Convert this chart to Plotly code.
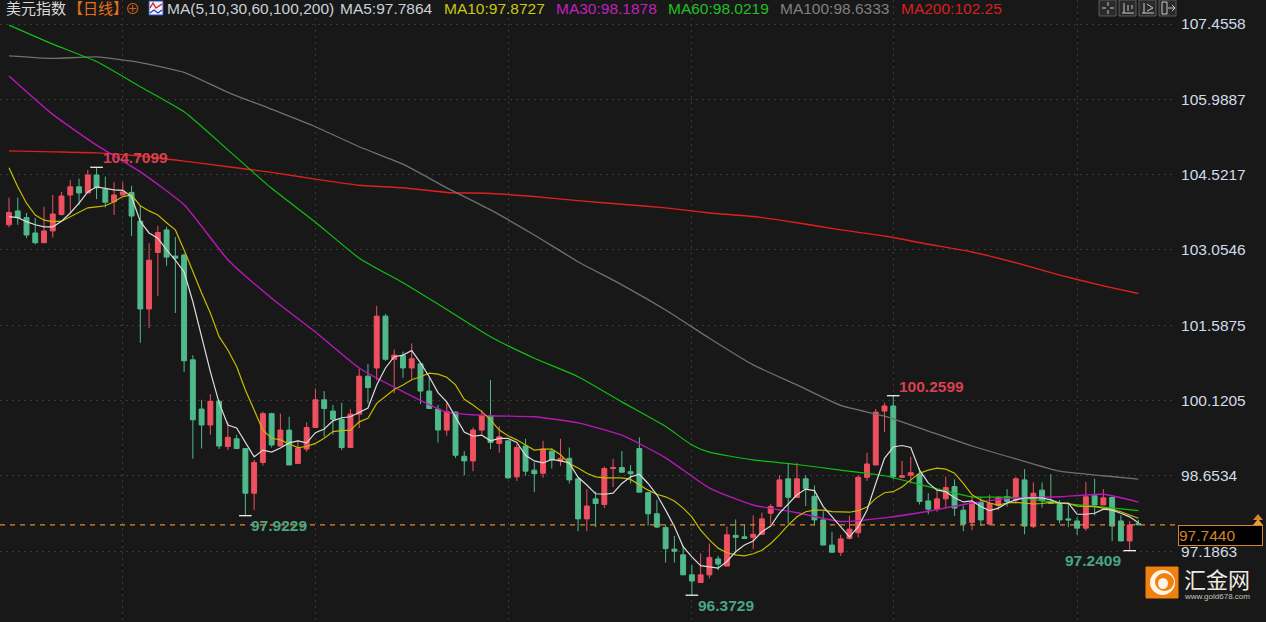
import plotly.graph_objects as go

# ---------- data ----------
opens = [103.59,103.86,103.73,103.43,103.24,103.47,103.79,104.17,104.33,104.21,104.56,104.28,104.04,104.17,104.22,103.66,101.95,103.05,103.49,102.98,
103.00,100.96,100.00,99.69,100.15,99.27,99.42,99.23,98.36,98.96,99.91,99.28,99.59,98.94,99.22,99.64,100.18,99.96,99.80,99.25,
99.90,100.64,100.80,101.81,100.97,101.04,100.80,100.88,100.35,100.00,99.59,99.94,99.08,98.99,99.59,99.87,99.33,99.38,98.68,99.28,
98.81,98.75,99.18,98.99,99.04,98.64,97.86,98.25,98.14,98.84,98.86,98.78,99.23,98.37,97.96,97.69,97.27,97.16,96.77,96.62,
96.77,97.08,96.94,97.54,97.51,97.50,97.56,97.97,98.10,98.64,98.28,98.64,98.30,97.84,97.35,97.21,97.48,97.59,98.67,98.91,
99.96,100.06,98.67,98.71,98.73,98.21,98.05,98.25,98.49,98.03,97.79,98.18,97.76,98.12,98.29,98.23,98.62,97.71,98.42,98.20,
98.14,97.86,97.82,97.68,98.31,98.13,98.28,97.82,97.43,97.77]
highs = [104.12,104.12,103.82,103.72,103.94,104.17,104.23,104.46,104.49,104.66,104.7099,104.53,104.42,104.42,104.35,103.96,103.23,103.57,103.55,103.35,
103.03,101.05,100.18,100.29,100.18,99.75,99.50,99.23,99.01,99.95,99.93,99.91,99.85,99.40,99.74,100.40,100.35,100.08,100.12,100.00,
100.78,100.88,102.01,101.85,101.16,101.12,101.28,100.92,100.62,100.08,100.13,99.95,99.18,99.64,99.98,100.57,99.67,99.40,99.31,99.42,
98.96,99.38,99.23,99.42,99.25,98.65,98.44,98.39,98.88,99.03,99.18,98.91,99.45,98.38,98.23,97.75,97.53,97.34,96.96,97.19,
97.38,97.14,97.71,97.85,97.76,97.93,97.98,98.15,98.71,98.93,98.95,98.71,98.51,98.01,97.61,97.55,97.92,98.71,99.15,100.00,
100.12,100.2599,98.99,99.07,98.85,98.36,98.42,98.68,98.63,98.12,98.31,98.28,98.33,98.31,98.44,98.68,98.83,98.57,98.57,98.73,
98.23,98.16,97.89,98.58,98.64,98.44,98.29,97.93,97.82,97.84]
lows = [103.54,103.59,103.33,103.21,103.24,103.34,103.77,103.84,103.98,104.21,104.09,103.93,103.78,104.17,103.37,101.29,101.58,102.20,102.79,101.87,
100.72,99.03,99.23,99.50,99.22,99.20,99.23,97.9229,98.03,98.90,99.25,99.28,98.91,98.94,99.17,99.64,99.46,99.50,99.20,99.25,
99.63,100.11,100.56,100.94,100.31,100.61,100.58,100.10,100.01,99.35,99.48,99.05,98.71,98.79,99.51,99.22,99.15,98.64,98.60,98.70,
98.38,98.66,98.84,98.89,98.55,97.62,97.62,97.70,98.07,98.48,98.77,98.55,98.38,97.73,97.68,97.01,97.01,96.77,96.3729,96.62,
96.70,96.86,96.94,97.19,97.48,97.27,97.56,97.77,98.10,97.77,98.28,98.11,97.73,97.35,97.21,97.14,97.46,97.50,98.60,98.91,
99.55,98.63,98.66,98.55,98.14,97.95,98.00,98.07,97.92,97.62,97.64,97.73,97.74,98.03,98.10,98.16,97.56,97.68,98.08,98.16,
97.77,97.70,97.55,97.63,97.93,98.13,97.43,97.43,97.2409,97.74]
closes = [103.83,103.73,103.39,103.24,103.47,103.80,104.15,104.33,104.21,104.56,104.31,104.03,104.17,104.23,103.76,101.95,102.90,103.44,102.96,102.94,
100.94,99.79,99.69,100.15,99.28,99.45,99.23,98.36,98.96,99.91,99.30,99.59,98.91,99.23,99.64,100.18,100.01,99.80,99.25,99.90,
100.64,100.42,101.81,100.97,101.05,100.80,100.98,100.35,100.01,99.59,99.95,99.10,98.99,99.59,99.88,99.35,99.46,98.66,99.25,98.79,
98.74,99.22,99.01,99.04,98.62,97.86,98.11,98.16,98.84,98.86,98.77,98.74,98.38,97.96,97.70,97.28,97.23,96.77,96.65,96.77,
97.11,96.98,97.55,97.50,97.48,97.56,97.86,98.10,98.62,98.28,98.64,98.45,97.84,97.35,97.21,97.47,97.66,98.67,98.93,99.94,
100.06,98.68,98.70,98.76,98.20,98.05,98.25,98.47,98.07,97.76,98.18,97.84,98.16,98.27,98.20,98.64,97.72,98.36,98.21,98.16,
97.84,97.84,97.68,98.29,98.13,98.27,97.72,97.43,97.74,97.744]

ma5 = [103.75,103.73,103.65,103.59,103.55,103.55,103.66,103.82,104.01,104.23,104.33,104.30,104.27,104.26,104.14,103.65,103.43,103.33,103.10,102.90,102.67,
102.09,101.40,100.73,100.12,99.69,99.63,99.34,99.07,99.20,99.16,99.24,99.34,99.38,99.34,99.54,99.61,99.77,99.83,99.85,99.94,100.02,100.47,100.80,101.02,101.05,101.14,100.90,100.63,
100.32,100.14,99.85,99.55,99.47,99.49,99.38,99.43,99.43,99.35,99.10,98.99,98.95,99.02,98.99,98.95,98.67,98.52,98.35,98.34,98.36,98.55,98.68,98.73,98.55,98.33,98.03,97.71,97.32,97.12,96.95,96.92,96.90,
97.03,97.22,97.35,97.43,97.61,97.72,97.97,98.16,98.33,98.44,98.41,98.10,97.90,97.71,97.51,97.71,98.03,98.55,99.04,99.26,99.29,99.25,98.81,98.56,
98.42,98.39,98.27,98.19,98.21,98.10,98.02,98.07,98.17,98.23,98.27,98.27,98.27,98.23,98.17,98.17,97.95,97.95,97.97,98.05,98.03,97.97,97.90,97.7864]
ma10 = [104.70,104.33,104.01,103.78,103.68,103.65,103.66,103.75,103.83,103.92,103.94,103.96,104.04,104.14,104.17,103.96,103.86,103.78,103.63,103.49,
103.10,102.67,102.26,101.87,101.41,101.15,100.83,100.37,99.98,99.59,99.43,99.40,99.32,99.25,99.27,99.33,99.43,99.56,99.58,99.59,99.75,99.82,100.11,100.24,100.38,100.47,100.57,100.63,100.70,
100.68,100.62,100.47,100.19,100.08,99.95,99.79,99.59,99.48,99.40,99.30,99.20,99.22,99.22,99.11,98.94,98.85,98.75,98.68,98.66,98.66,98.66,98.63,98.52,98.42,98.34,98.29,98.21,98.07,97.90,97.64,97.45,97.29,
97.20,97.16,97.14,97.18,97.25,97.38,97.55,97.74,97.90,98.00,98.03,98.03,98.00,97.99,97.99,98.02,98.09,98.26,98.37,98.39,98.48,98.62,98.75,98.81,
98.85,98.83,98.75,98.55,98.33,98.23,98.17,98.13,98.17,98.18,98.16,98.15,98.16,98.18,98.16,98.16,98.11,98.10,98.10,98.07,98.05,98.00,97.94,97.8727]
slow_idx = [0,5,10,15,20,25,30,35,40,45,50,55,60,65,70,75,80,85,90,95,100,105,110,115,120,125,129]
ma30 = [106.49,105.74,105.14,104.62,103.98,102.91,102.16,101.50,100.80,100.34,99.94,99.87,99.85,99.73,99.49,99.05,98.46,98.13,97.98,97.81,97.88,98.01,98.17,98.27,98.29,98.34,98.1878]
ma60_idx = [0,5,10,15,20,25,30,35,40,45,50,55,60,65,70,75,78,80,85,90,95,100,105,110,115,120,125,129]
ma60 = [107.48,107.11,106.77,106.28,105.79,105.05,104.30,103.64,102.94,102.46,101.94,101.41,100.99,100.63,100.14,99.66,99.30,99.16,99.01,98.92,98.81,98.70,98.49,98.29,98.28,98.17,98.09,98.0219]
ma100 = [106.88,106.83,106.86,106.75,106.56,106.17,105.84,105.50,105.11,104.77,104.31,103.88,103.39,102.87,102.42,101.93,101.38,100.86,100.47,100.07,99.86,99.57,99.28,99.03,98.79,98.70,98.6333]
ma200 = [105.03,105.01,104.99,104.93,104.83,104.72,104.61,104.48,104.36,104.31,104.22,104.20,104.14,104.06,103.99,103.92,103.82,103.75,103.63,103.49,103.37,103.21,103.06,102.85,102.61,102.40,102.25]

tick_labels = ["107.4558","105.9887","104.5217","103.0546","101.5875","100.1205","98.6534","97.1863"]
grid_bars = [13,35,57,78,101,122]
last_price = 97.7440
extremes = [(10,104.7099,"#d8404f"),(27,97.9229,"#4aa583"),(78,96.3729,"#4aa583"),(101,100.2599,"#d8404f"),(128,97.2409,"#4aa583")]
header = [("美元指数",5,"#d8d8d8"),("【日线】",67,"#e8701a"),("⊕",124,"#c8601a"),
          ("MA(5,10,30,60,100,200)",166,"#c8d0d8"),("MA5:97.7864",339,"#c8d0d8"),("MA10:97.8727",443,"#c8c810"),
          ("MA30:98.1878",555,"#c020c0"),("MA60:98.0219",667,"#20c020"),("MA100:98.6333",779,"#808080"),("MA200:102.25",900,"#d82020")]

assert all(len(a)==130 for a in (opens,highs,lows,closes,ma5,ma10)), [len(a) for a in (opens,highs,lows,closes,ma5,ma10)]
assert len(ma30)==len(slow_idx)==len(ma100)==len(ma200) and len(ma60)==len(ma60_idx)

# ---------- geometry ----------
W,H = 1266,622
PLOT_W = 1175
BG = "#181818"
def px(x): return x/PLOT_W
def py(y): return 1-y/H

bars = list(range(len(opens)))
fig = go.Figure()
fig.add_trace(go.Candlestick(x=bars,open=opens,high=highs,low=lows,close=closes,whiskerwidth=0,
    increasing=dict(line=dict(color="#ef5060",width=1),fillcolor="#ef5060"),
    decreasing=dict(line=dict(color="#4fb98b",width=1),fillcolor="#4fb98b"),
    hoverinfo="skip",showlegend=False))

def line(x,y,color,w=1.2,shape="linear"):
    fig.add_trace(go.Scatter(x=x,y=y,mode="lines",line=dict(color=color,width=w,shape=shape,smoothing=0.5),hoverinfo="skip",showlegend=False))
line(slow_idx,ma200,"#dc2020",1.4,"spline")
line(slow_idx,ma100,"#707070",1.3,"spline")
line(ma60_idx,ma60,"#10c010",1.2,"spline")
line(slow_idx,ma30,"#b818b8",1.4,"spline")
line(bars,ma10,"#c4bc00",1.2)
line(bars,ma5,"#dcdcdc",1.2)

fig.add_trace(go.Scatter(x=[e[0] for e in extremes],y=[e[1] for e in extremes],mode="markers",
    marker=dict(symbol="line-ew",size=9,line=dict(color="#f0f0f0",width=1.3)),hoverinfo="skip",showlegend=False))

shapes=[]
ann=[]
shapes.append(dict(type="line",xref="paper",yref="y",x0=0,x1=px(1178),y0=last_price,y1=last_price,
                   line=dict(color="#e0882a",width=1.2,dash="5px,5px")))
label_pos = [(101,157),(249,525),(696,605),(897,386),(1063,560)]
for (b,v,c),(lx,ly) in zip(extremes,label_pos):
    ann.append(dict(x=px(lx),y=py(ly),xref="paper",yref="paper",xanchor="left",yanchor="middle",showarrow=False,
                    text=f"<b>{v:.4f}</b>",font=dict(family="Liberation Sans",size=15.5,color=c)))
for t,x,c in header:
    ann.append(dict(x=px(x-1),y=py(9),xref="paper",yref="paper",xanchor="left",yanchor="middle",showarrow=False,
                    text=t,font=dict(family="Liberation Sans, Noto Sans CJK SC",size=15 if t[0] in "美【⊕" else 15.5,color=c)))
shapes.append(dict(type="rect",xref="paper",yref="paper",x0=px(149),x1=px(163),y0=py(1),y1=py(15),fillcolor="#f0f0ff",line=dict(color="#3050b0",width=1)))
shapes.append(dict(type="path",xref="paper",yref="paper",path=f"M {px(150)} {py(8)} L {px(153)} {py(3)} L {px(156)} {py(8)} L {px(162)} {py(4)}",line=dict(color="#d82020",width=1.4)))
shapes.append(dict(type="path",xref="paper",yref="paper",path=f"M {px(150)} {py(13)} L {px(154)} {py(10)} L {px(158)} {py(13)} L {px(162)} {py(10)}",line=dict(color="#2040c0",width=1.2)))
for bx in (1099,1119,1139,1159):
    shapes.append(dict(type="rect",xref="paper",yref="paper",x0=px(bx),x1=px(bx+17),y0=py(0),y1=py(16),fillcolor="#2a2a2a",line=dict(color="#5a5a5a",width=1)))
BTN="#c8c8c8"
shapes += [dict(type="line",xref="paper",yref="paper",x0=px(a),x1=px(b),y0=py(c),y1=py(d),line=dict(color=BTN,width=1)) for a,b,c,d in [
    (1102,1106,8,8),(1110,1114,8,8),(1108,1108,2,6),(1108,1108,10,14),
    (1122,1134,13,13),(1124,1124,3,13),(1128,1128,5,11),(1132,1132,5,9),
    (1142,1154,13,13),(1144,1144,3,13),(1147,1153,4,8),(1147,1153,11,8),
    (1162,1162,2,14),(1167,1167,2,14),(1162,1167,2,2),(1162,1167,14,14),(1168,1175,8,8),(1172,1175,5,8),(1172,1175,11,8)]]
ann.append(dict(x=px(1178),y=py(525),xref="paper",yref="paper",xanchor="left",yanchor="top",showarrow=False,
                text="97.7440",width=83,height=19,align="left",valign="middle",bgcolor="#000000",bordercolor="#d8822a",borderwidth=1,borderpad=0,
                font=dict(family="Liberation Sans",size=15.5,color="#d8822a")))
shapes.append(dict(type="path",xref="paper",yref="paper",path=f"M {px(1253)} {py(520)} L {px(1258)} {py(514)} L {px(1263)} {py(520)} Z",fillcolor="#d8822a",line=dict(width=0)))
shapes.append(dict(type="path",xref="paper",yref="paper",path=f"M {px(1253)} {py(525)} L {px(1258)} {py(519)} L {px(1263)} {py(525)} Z",fillcolor="#e8a040",line=dict(width=0)))
shapes.append(dict(type="rect",xref="paper",yref="paper",x0=px(1146),x1=px(1178),y0=py(567),y1=py(598),fillcolor="#f08010",line=dict(color="#f08010",width=1)))
shapes.append(dict(type="circle",xref="paper",yref="paper",x0=px(1150),x1=px(1175),y0=py(570),y1=py(595),fillcolor="#fff4e8",line=dict(width=0)))
shapes.append(dict(type="circle",xref="paper",yref="paper",x0=px(1155),x1=px(1174),y0=py(573),y1=py(591),fillcolor="#f08010",line=dict(width=0)))
shapes.append(dict(type="circle",xref="paper",yref="paper",x0=px(1158),x1=px(1168),y0=py(578),y1=py(589),fillcolor="#fff4e8",line=dict(width=0)))
ann.append(dict(x=px(1182),y=py(578),xref="paper",yref="paper",xanchor="left",yanchor="middle",showarrow=False,
                text="汇金网",font=dict(family="Noto Sans CJK SC",size=22,color="#f0e8e0")))
ann.append(dict(x=px(1182),y=py(596),xref="paper",yref="paper",xanchor="left",yanchor="middle",showarrow=False,
                text="www.gold678.com",font=dict(family="Liberation Sans",size=8,color="#c8c0b8")))

fig.update_layout(width=W,height=H,margin=dict(l=0,r=W-PLOT_W,t=0,b=0),paper_bgcolor=BG,plot_bgcolor=BG,
    shapes=shapes,annotations=ann,showlegend=False,boxgap=0.2,
    xaxis=dict(range=[-9/8.755,(PLOT_W-9)/8.755],rangeslider=dict(visible=False),showticklabels=False,ticks="",
               tickmode="array",tickvals=grid_bars,showgrid=True,gridcolor="#383838",griddash="2px,4px",gridwidth=1,zeroline=False,showline=False),
    yaxis=dict(side="right",range=[107.969-0.019482*H,107.969],tickmode="array",
               tickvals=[float(t)+0.045 for t in tick_labels],ticktext=tick_labels,
               showgrid=True,gridcolor="#383838",griddash="2px,4px",gridwidth=1,zeroline=False,showline=False,
               ticks="outside",ticklen=2,tickcolor=BG,tickfont=dict(family="Liberation Sans",size=15.5,color="#d0dce8")))

fig.write_html("out.html",post_script="document.body.style.margin='0';document.body.style.background='#181818';",
               config=dict(displayModeBar=False))
